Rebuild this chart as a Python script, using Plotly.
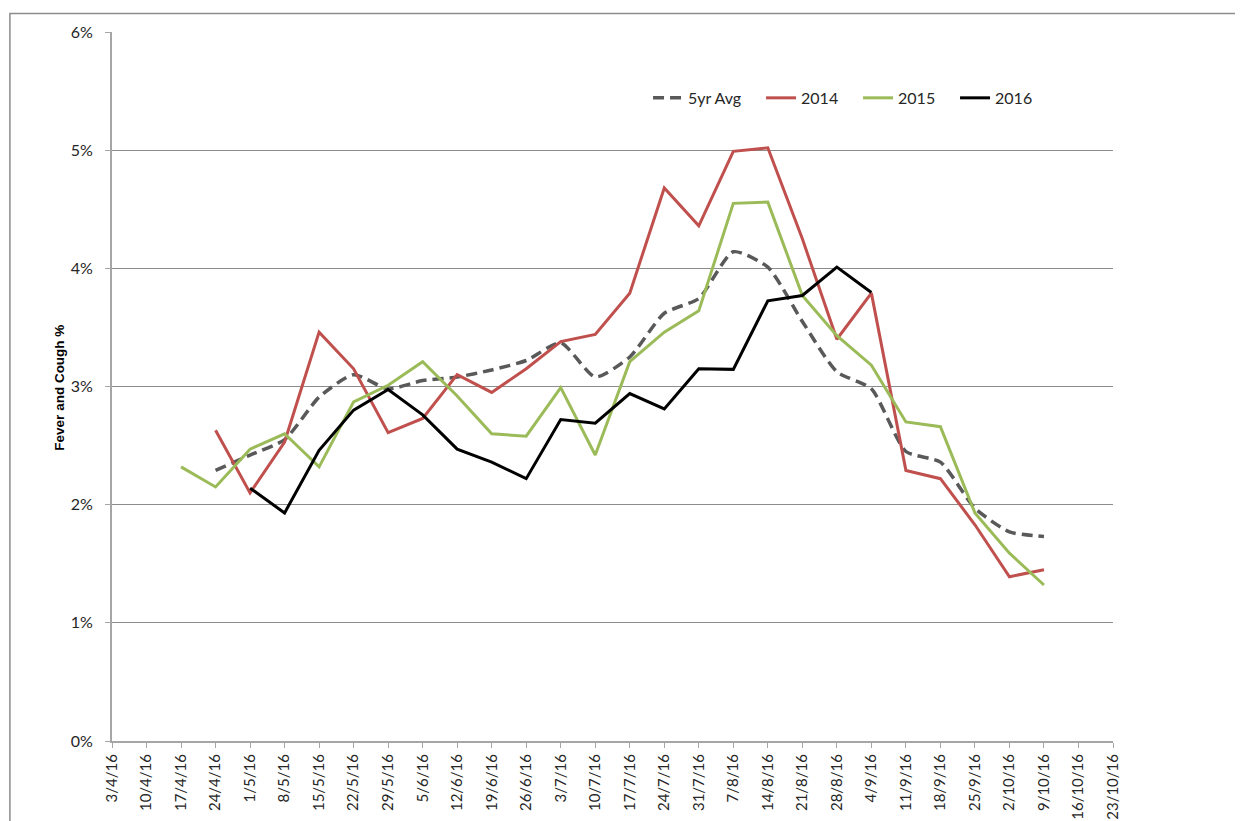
import plotly.graph_objects as go

# weekly categories
weeks = ['3/4/16', '10/4/16', '17/4/16', '24/4/16', '1/5/16', '8/5/16', '15/5/16',
         '22/5/16', '29/5/16', '5/6/16', '12/6/16', '19/6/16', '26/6/16', '3/7/16',
         '10/7/16', '17/7/16', '24/7/16', '31/7/16', '7/8/16', '14/8/16', '21/8/16',
         '28/8/16', '4/9/16', '11/9/16', '18/9/16', '25/9/16', '2/10/16', '9/10/16',
         '16/10/16', '23/10/16']

avg5 = [None, None, None, 2.29, 2.42, 2.55, 2.91, 3.10, 2.98, 3.05, 3.08, 3.14, 3.22,
        3.37, 3.08, 3.25, 3.62, 3.745, 4.14, 4.01, 3.55, 3.125, 2.98, 2.45, 2.36, 1.97,
        1.77, 1.73, None, None]
y2014 = [None, None, None, 2.63, 2.10, 2.53, 3.46, 3.15, 2.61, 2.73, 3.10, 2.95, 3.15,
         3.38, 3.44, 3.79, 4.68, 4.36, 4.99, 5.02, 4.25, 3.40, 3.79, 2.29, 2.22, 1.83,
         1.39, 1.45, None, None]
y2015 = [None, None, 2.32, 2.15, 2.47, 2.60, 2.32, 2.87, 3.01, 3.21, 2.92, 2.60, 2.58,
         2.99, 2.42, 3.21, 3.46, 3.64, 4.55, 4.56, 3.77, 3.43, 3.18, 2.70, 2.66, 1.93,
         1.59, 1.32, None, None]
y2016 = [None, None, None, None, 2.14, 1.93, 2.46, 2.80, 2.975, 2.76, 2.47, 2.36, 2.22,
         2.72, 2.69, 2.94, 2.81, 3.15, 3.145, 3.725, 3.77, 4.01, 3.795, None, None, None,
         None, None, None, None]

fig = go.Figure()
fig.add_trace(go.Scatter(x=weeks, y=avg5, name='5yr Avg', mode='lines', legend='legend',
                         line=dict(color='#595959', width=3.5, dash='11px,6px',
                                   shape='spline', smoothing=0.6)))
fig.add_trace(go.Scatter(x=weeks, y=y2014, name='2014', mode='lines', legend='legend2',
                         line=dict(color='#C0504D', width=3)))
fig.add_trace(go.Scatter(x=weeks, y=y2015, name='2015', mode='lines', legend='legend3',
                         line=dict(color='#9BBB59', width=3)))
fig.add_trace(go.Scatter(x=weeks, y=y2016, name='2016', mode='lines', legend='legend4',
                         line=dict(color='#000000', width=3)))

fig.update_xaxes(type='category', range=[0, 29], tickangle=-90, automargin=False,
                 showline=True, linecolor='#a6a6a6', linewidth=2,
                 ticks='outside', ticklen=5, tickcolor='#a6a6a6',
                 showgrid=False, tickfont=dict(size=15, color='#262626'))
fig.update_yaxes(range=[0, 6], dtick=1, ticksuffix='%', automargin=False,
                 showline=True, linecolor='#a6a6a6', linewidth=2,
                 ticks='outside', ticklen=5, tickcolor='#a6a6a6',
                 gridcolor='#8c8c8c', gridwidth=1, zeroline=False,
                 ticklabelstandoff=9, tickfont=dict(size=16, color='#262626'))

fig.add_annotation(text='<b>Fever and Cough %</b>', xref='paper', yref='paper',
                   x=-0.062, y=0.499, textangle=-90, showarrow=False,
                   font=dict(family='Liberation Sans', size=13.5, color='#000000'))

# outer chart border (partly off-page like the reference)
fig.add_shape(type='rect', xref='paper', yref='paper',
              x0=-0.102, y0=-0.2, x1=1.2, y1=1.026,
              line=dict(color='#8c8c8c', width=1.5))

leg = dict(orientation='h', y=0.907, xanchor='left', yanchor='middle',
           font=dict(size=16, color='#262626'), bgcolor='rgba(0,0,0,0)')

# page body adds an 8px offset, margins compensate for it
fig.update_layout(
    width=1243, height=821,
    margin=dict(l=104, r=138, t=24, b=88),
    plot_bgcolor='white', paper_bgcolor='white',
    font=dict(family='Lato', size=16, color='#262626'),
    showlegend=True,
    legend=dict(leg, x=0.5355),
    legend2=dict(leg, x=0.6484),
    legend3=dict(leg, x=0.7453),
    legend4=dict(leg, x=0.8422),
)

fig.write_html("out.html")
